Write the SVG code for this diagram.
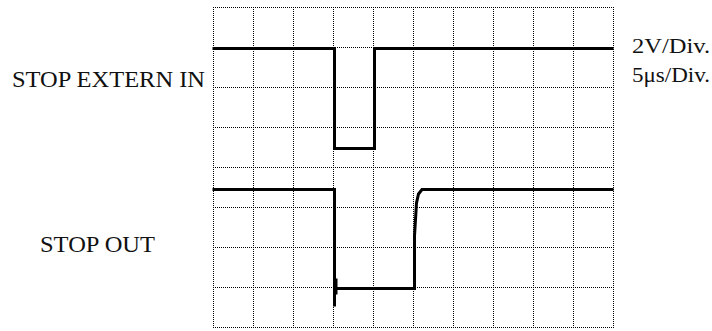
<svg xmlns="http://www.w3.org/2000/svg" width="712" height="331" viewBox="0 0 712 331">
<style>
.grid{fill:none;stroke:#000;stroke-width:1;stroke-dasharray:1 1}
.sig{fill:none;stroke:#000;stroke-width:3;stroke-linejoin:miter;stroke-linecap:square}
.lbl{font-family:"Liberation Serif","Times New Roman",serif;fill:#111}
</style>
<rect width="712" height="331" fill="#fff"/>
<g id="grid">
<path class="grid" d="M213.5,7 V328 M253.5,7 V328 M293.5,7 V328 M333.5,7 V328 M373.5,7 V328 M413.5,7 V328 M453.5,7 V328 M493.5,7 V328 M533.5,7 V328 M573.5,7 V328 M613.5,7 V328"/>
<path class="grid" d="M213,7.5 H614 M213,47.5 H614 M213,87.5 H614 M213,127.5 H614 M213,167.5 H614 M213,207.5 H614 M213,247.5 H614 M213,287.5 H614 M213,327.5 H614"/>
</g>
<g id="connectors">
<path id="trace-in" class="sig" d="M214,48.5 H334.5 V148.5 H374.5 V48.5 H612"/>
<path id="trace-out" class="sig" d="M214,189.5 H334.5 V305 M336,280 V293 M336,288.5 H414.5 V236 L416.5,203 L418.5,194 L422,189.5 H612"/>
</g>
<g id="label-in"><text class="lbl" x="12" y="86.5" font-size="24" textLength="193" lengthAdjust="spacingAndGlyphs">STOP EXTERN IN</text></g>
<g id="label-out"><text class="lbl" x="40" y="251.5" font-size="24" textLength="115" lengthAdjust="spacingAndGlyphs">STOP OUT</text></g>
<g id="scale">
<text class="lbl" x="632" y="52.5" font-size="20" textLength="78" lengthAdjust="spacingAndGlyphs">2V/Div.</text>
<text class="lbl" x="632" y="81.5" font-size="20" textLength="78" lengthAdjust="spacingAndGlyphs">5μs/Div.</text>
</g>
</svg>
